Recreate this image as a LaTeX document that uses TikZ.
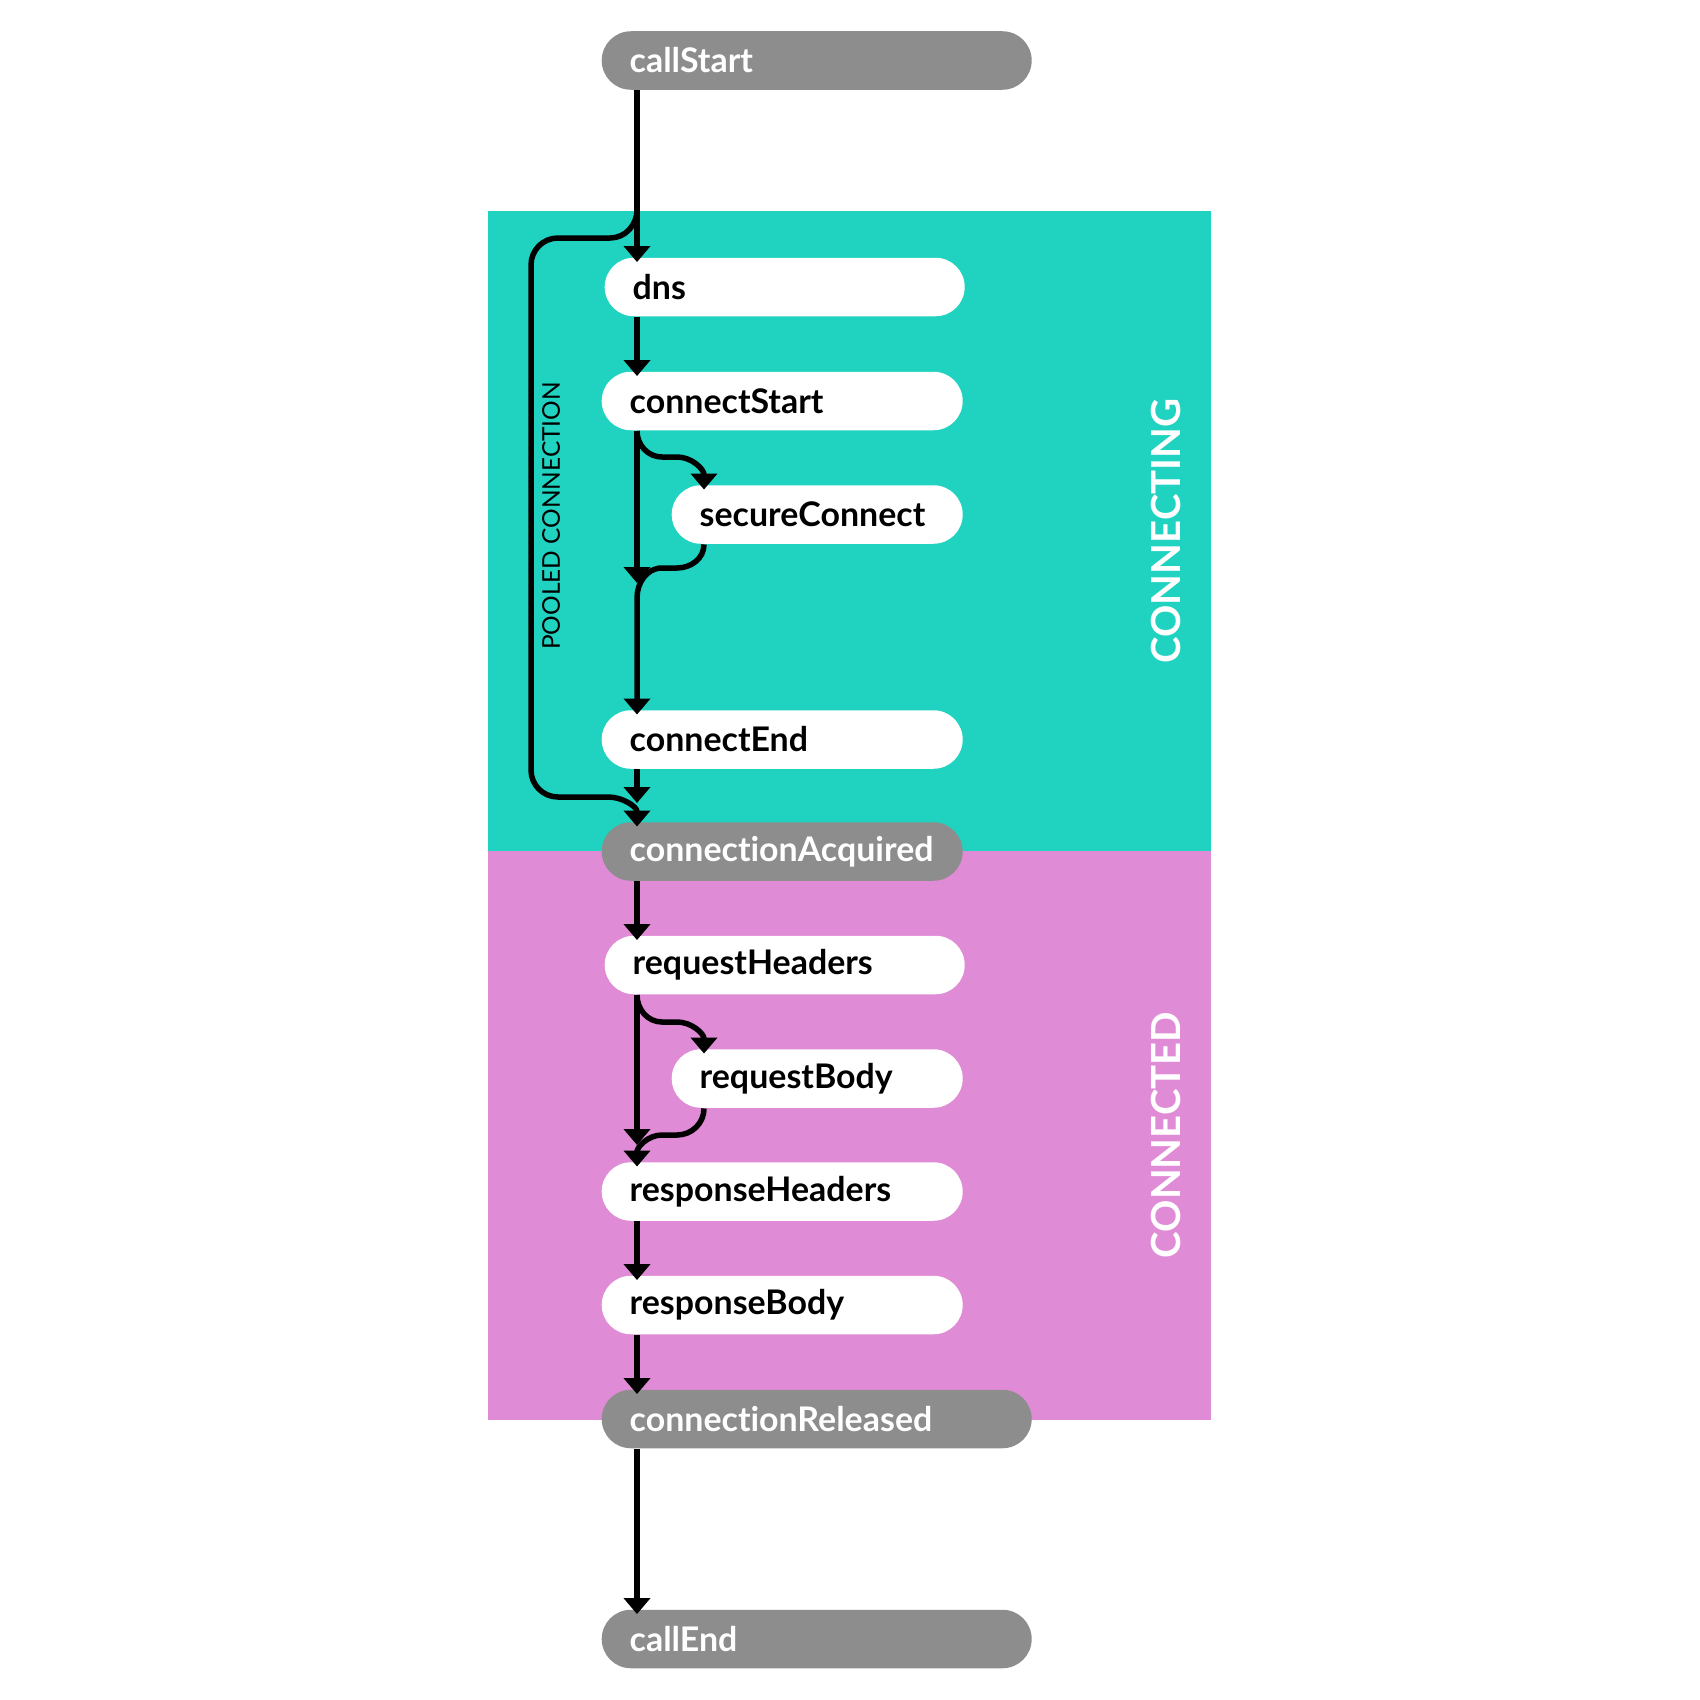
\documentclass[tikz,border=0pt]{standalone}
\usepackage{fontspec}
\setmainfont{Lato}[Ligatures=CommonOff]
\usetikzlibrary{arrows.meta}

\definecolor{connectingcol}{RGB}{31,211,192}
\definecolor{connectedcol}{RGB}{224,139,213}
\definecolor{eventgray}{RGB}{141,141,141}

\tikzset{
	event/.style={rectangle, rounded corners=2.92mm, minimum height=5.85mm, inner xsep=2.8mm, inner ysep=0pt, anchor=west, align=left, font=\fontsize{9.65}{11}\selectfont\bfseries, fill=white, text=black},
	callevent/.style={event, fill=eventgray, text=white},
	flow/.style={line width=0.55mm, shorten >=-0.5mm, >={Triangle[length=1.6mm,width=2.6mm]}},
	phase/.style={rotate=90, text=white, font=\fontsize{11.4}{13}\selectfont\bfseries}
}

\begin{document}
\begin{tikzpicture}
	\useasboundingbox (0,0) rectangle (17,-17);
	\coordinate (spine) at (6.37,0);
	\coordinate (fork) at (7.04,0);

	% phases
	\fill[connectingcol] (4.88,-2.11) rectangle (12.11,-8.51);
	\fill[connectedcol] (4.88,-8.51) rectangle (12.11,-14.20);
	\node[phase] (connectingLabel) at (11.66,-5.31) {CONNECTING};
	\node[phase] (connectedLabel) at (11.66,-11.35) {CONNECTED};
	\node[rotate=90, font=\fontsize{6.95}{8}\selectfont] (pooledLabel) at (5.51,-5.16) {POOLED CONNECTION};

	% events
	\node[callevent, text width=3.74cm] (callStart) at (6.01,-0.605) {callStart};
	\node[event, text width=3.04cm] (dns) at (6.04,-2.87) {dns};
	\node[event, text width=3.05cm] (connectStart) at (6.01,-4.01) {connectStart};
	\node[event, text width=2.35cm] (secureConnect) at (6.71,-5.145) {secureConnect};
	\node[event, text width=3.05cm] (connectEnd) at (6.01,-7.395) {connectEnd};
	\node[callevent, text width=3.05cm] (connectionAcquired) at (6.01,-8.515) {connectionAcquired};
	\node[event, text width=3.04cm] (requestHeaders) at (6.04,-9.65) {requestHeaders};
	\node[event, text width=2.35cm] (requestBody) at (6.71,-10.785) {requestBody};
	\node[event, text width=3.05cm] (responseHeaders) at (6.01,-11.915) {responseHeaders};
	\node[event, text width=3.05cm] (responseBody) at (6.01,-13.05) {responseBody};
	\node[callevent, text width=3.74cm] (connectionReleased) at (6.01,-14.19) {connectionReleased};
	\node[callevent, text width=3.74cm] (callEnd) at (6.01,-16.39) {callEnd};

	\coordinate (split) at (6.37,-2.10);
	\coordinate (joinA) at (6.37,-5.78);
	\coordinate (joinB) at (6.37,-11.40);
	\coordinate (joinC) at (6.37,-7.98);

	% connectors
	\draw[flow,->] (callStart.south -| spine) -- (dns.north -| spine);
	\draw[flow,shorten >=0mm] (split) to[out=-90,in=0] (6.10,-2.38) -- (5.58,-2.38) to[out=180,in=90] (5.31,-2.65) -- (5.31,-7.70) to[out=-90,in=180] (5.58,-7.97) -- (6.08,-7.97);
	\draw[flow,->] (6.08,-7.97) to[out=0,in=90] (connectionAcquired.north -| spine);
	\draw[flow,->] (dns.south -| spine) -- (connectStart.north -| spine);
	\draw[flow,->] (connectStart.south -| spine) -- (joinA);
	\draw[flow,->] (connectStart.south -| spine) to[out=-90,in=180] (6.62,-4.57) -- (6.77,-4.57) to[out=0,in=90] (secureConnect.north -| fork);
	\draw[flow,->] (secureConnect.south -| fork) to[out=-90,in=0] (6.77,-5.68) -- (6.62,-5.68) to[out=180,in=90] (6.37,-5.98) -- (connectEnd.north -| spine);
	\draw[flow,->] (connectEnd.south -| spine) -- (joinC);
	\draw[flow,->] (connectionAcquired.south -| spine) -- (requestHeaders.north -| spine);
	\draw[flow,->] (requestHeaders.south -| spine) -- (joinB);
	\draw[flow,->] (requestHeaders.south -| spine) to[out=-90,in=180] (6.62,-10.22) -- (6.77,-10.22) to[out=0,in=90] (requestBody.north -| fork);
	\draw[flow,->] (requestBody.south -| fork) to[out=-90,in=0] (6.77,-11.35) -- (6.62,-11.35) to[out=180,in=90] (responseHeaders.north -| spine);
	\draw[flow,->] (responseHeaders.south -| spine) -- (responseBody.north -| spine);
	\draw[flow,->] (responseBody.south -| spine) -- (connectionReleased.north -| spine);
	\draw[flow,->] (connectionReleased.south -| spine) -- (callEnd.north -| spine);
\end{tikzpicture}
\end{document}
